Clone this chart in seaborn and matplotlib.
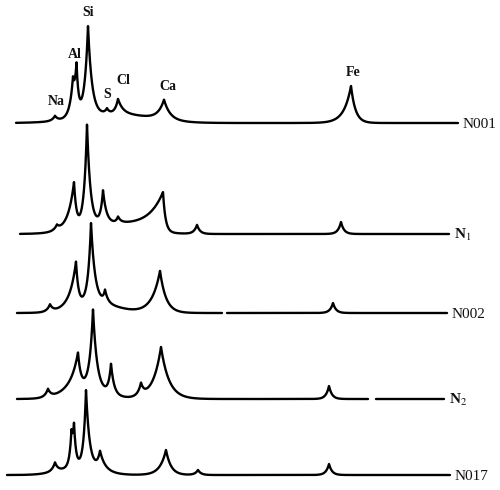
import numpy as np
import pandas as pd
import matplotlib.pyplot as plt
import seaborn as sns

sns.set_theme(style="white")
plt.rcParams['font.family'] = ['Liberation Serif', 'DejaVu Serif']
plt.rcParams['mathtext.fontset'] = 'stix'

# spectra, top to bottom (pixel units)
names = ['N001', 'N$_1$', 'N002', 'N$_2$', 'N017']
baselines = [123, 234, 313, 399, 475]
x_start = [16, 20, 17, 17, 7]
x_end = [458, 449, 447, 444, 450]
gaps = [None, None, (222, 227), (368, 376), None]

# peaks: position, height above background, left width, right width
peaks = [
    [(55, 5, 3, 3), (73, 30, 3.5, 2.5), (76.5, 45, 2.5, 2), (88, 90, 3.5, 4),
     (107, 5, 2.5, 2.5), (118, 15, 3, 5), (164, 20, 6, 6), (351, 37, 7, 4.5)],
    [(57, 5, 3, 3), (74, 46, 6, 2.5), (87, 102, 3, 3.5), (103, 33, 2.5, 3.5),
     (118, 6, 2, 3), (163, 40, 16, 2.5), (197, 9, 3, 3), (341, 12, 3, 3)],
    [(50, 7, 3, 3), (76, 44, 6, 2.5), (91, 80, 3, 4), (105, 12, 2, 3),
     (160, 42, 8, 6), (333, 10, 3, 3)],
    [(48, 8, 3, 3), (78, 36, 7, 3), (93, 80, 3.5, 4), (111, 30, 2.5, 3),
     (141, 12, 3, 3), (161, 52, 8, 8), (329, 13, 3, 3)],
    [(55, 9, 3, 3), (71.5, 28, 2, 2), (74, 36, 2, 2), (86, 77, 2.5, 3.5),
     (100, 18, 3, 5), (166, 25, 6, 5), (198, 5, 3, 3), (329, 11, 3, 3)],
]
# broad background hump under the light-element peaks: centre, height, width
humps = [(115, 9, 35), (110, 9, 30), (95, 10, 22), (85, 10, 20), (80, 8, 20)]

elements = ['Na', 'Al', 'Si', 'S', 'Cl', 'Ca', 'Fe']
el_x = [56, 75, 88, 107, 123, 168, 353]
el_y = [101, 55, 12, 95, 81, 86, 72]

rows = []
for i, name in enumerate(names):
    x = np.arange(x_start[i], x_end[i] + 0.25, 0.25)
    sig = np.zeros_like(x)
    for p, h, wl, wr in peaks[i]:
        w = np.where(x < p, wl, wr)
        sig += h * np.exp(-np.abs(x - p) / w)
    c, hh, ww = humps[i]
    sig += hh * np.exp(-0.5 * ((x - c) / ww) ** 2)
    seg = np.zeros(len(x), dtype=int)
    if gaps[i] is not None:
        g0, g1 = gaps[i]
        keep = (x <= g0) | (x >= g1)
        seg[x >= g1] = 1
        x, sig, seg = x[keep], sig[keep], seg[keep]
    rows.append(pd.DataFrame({'x': x, 'y': baselines[i] - sig,
                              'spec': i, 'seg': seg + 10 * i}))
df = pd.concat(rows, ignore_index=True)

fig = plt.figure(figsize=(5, 4.9), dpi=100)
ax = fig.add_axes([0, 0, 1, 1])
sns.lineplot(data=df, x='x', y='y', units='seg', estimator=None,
             color='black', lw=1.7, ax=ax, legend=False)

for el, ex, ey in zip(elements, el_x, el_y):
    ax.text(ex, ey, el, ha='center', va='center', fontsize=10,
            fontweight='bold', color='#111111')

for i, name in enumerate(names):
    bold = 'bold' if '$' in name else 'normal'
    ax.text(x_end[i] + 5, baselines[i] + 1, name, ha='left', va='center',
            fontsize=11, fontweight=bold, color='#111111')

ax.set_xlim(0, 500)
ax.set_ylim(490, 0)
ax.axis('off')

fig.savefig('out.png', dpi=100, facecolor='white')
